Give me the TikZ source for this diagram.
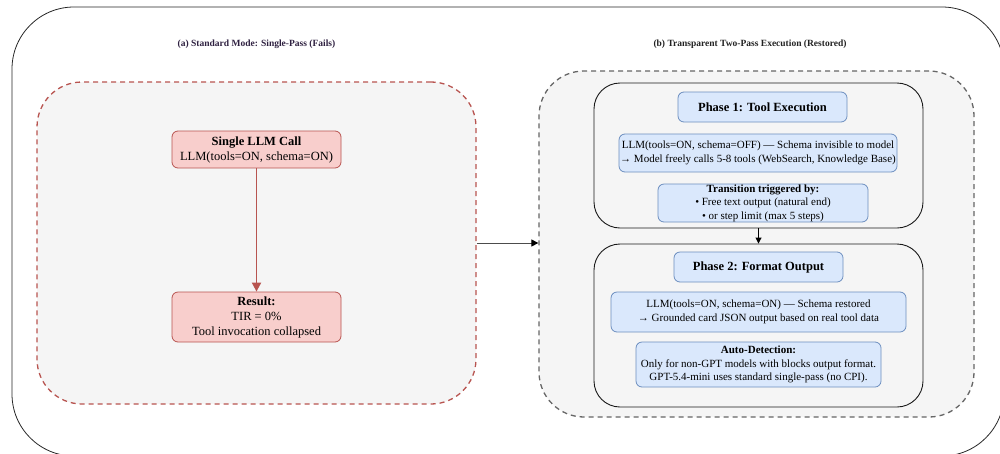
\documentclass[tikz,border=0pt]{standalone}
\usepackage{fontspec}
\setmainfont{Liberation Serif}
\usetikzlibrary{arrows.meta}
\definecolor{redstroke}{HTML}{B85450}
\definecolor{redfill}{HTML}{F8CECC}
\definecolor{bluestroke}{HTML}{6C8EBF}
\definecolor{bluefill}{HTML}{DAE8FC}
\definecolor{lanefill}{HTML}{F5F5F5}
\definecolor{grayline}{HTML}{666666}
\definecolor{titlea}{HTML}{2E2040}
\definecolor{titleb}{HTML}{222222}
\tikzset{
  outerbox/.style={draw=black!85, line width=0.8pt, rounded corners=62pt},
  redlane/.style={draw=redstroke, fill=lanefill, line width=1.3pt, dash pattern=on 5pt off 4pt, rounded corners=45pt, minimum width=439pt, minimum height=322pt, inner sep=0pt},
  graylane/.style={draw=grayline, fill=lanefill, line width=1.3pt, dash pattern=on 5pt off 4pt, rounded corners=45pt, minimum width=435pt, minimum height=346pt, inner sep=0pt},
  phasebox/.style={draw=black!90, fill=lanefill, line width=0.9pt, rounded corners=26pt, minimum width=329pt, inner sep=0pt},
  redbox/.style={draw=redstroke, fill=redfill, line width=0.8pt, rounded corners=6pt, minimum width=169pt, inner sep=0pt, align=center, font=\fontsize{12.5}{15}\selectfont},
  bluebox/.style={draw=bluestroke, fill=bluefill, line width=0.8pt, rounded corners=6pt, inner sep=0pt, align=center, font=\fontsize{11}{13.5}\selectfont},
  phasetitle/.style={bluebox, minimum width=169pt, minimum height=30pt, font=\fontsize{12.5}{15}\selectfont\bfseries},
  lanetitle/.style={font=\fontsize{9.5}{11}\selectfont\bfseries, inner sep=0pt},
}
\begin{document}
\begin{tikzpicture}[x=1pt,y=-1pt]
\useasboundingbox (0,0) rectangle (1000,453);
\clip (0,0) rectangle (1000,453);
\draw[outerbox] (12,7) rectangle (1004,456);

\node[lanetitle, text=titlea] (ta) at (256.5,44) {(a) Standard Mode: Single-Pass (Fails)};
\node[lanetitle, text=titleb] (tb) at (750,44) {(b) Transparent Two-Pass Execution (Restored)};

\node[redlane] (left) at (256.5,243) {};
\node[graylane] (right) at (756.5,244) {};

\node[phasebox, minimum height=145pt] (p1) at (758.5,155.5) {};
\node[phasebox, minimum height=163pt] (p2) at (758.5,325.5) {};

\node[redbox, minimum height=37pt] (single) at (256.5,149.5) {\textbf{Single LLM Call}\\LLM(tools=ON, schema=ON)};
\node[redbox, minimum height=50pt] (result) at (256.5,317) {\textbf{Result:}\\TIR = 0\%\\Tool invocation collapsed};
\draw[redstroke, line width=1.8pt, -{Triangle[length=9pt,width=9pt]}] (single) -- (result);

\node[phasetitle] (ph1) at (762.5,107) {Phase 1: Tool Execution};
\node[bluebox, minimum width=278pt, minimum height=38pt] (llmoff) at (758,153) {LLM(tools=ON, schema=OFF) — Schema invisible to model\\→ Model freely calls 5-8 tools (WebSearch, Knowledge Base)};
\node[bluebox, minimum width=210pt, minimum height=38pt] (trans) at (763,203) {\textbf{Transition triggered by:}\\• Free text output (natural end)\\• or step limit (max 5 steps)};

\node[phasetitle] (ph2) at (758.5,267) {Phase 2: Format Output};
\node[bluebox, minimum width=295pt, minimum height=40pt] (llmon) at (758.5,312) {LLM(tools=ON, schema=ON) — Schema restored\\→ Grounded card JSON output based on real tool data};
\node[bluebox, minimum width=245pt, minimum height=45pt] (auto) at (758.5,364.5) {\textbf{Auto-Detection:}\\Only for non-GPT models with blocks output format.\\GPT-5.4-mini uses standard single-pass (no CPI).};

\coordinate (a1) at (p1.south);
\draw[black, line width=0.9pt, -{Triangle[length=6pt,width=6pt]}] (a1) -- (a1 |- p2.north);
\draw[black!70, line width=1pt, -{Triangle[length=7pt,width=7pt,fill=black,color=black]}] (left.east) -- (right.west |- left.east);
\end{tikzpicture}
\end{document}
